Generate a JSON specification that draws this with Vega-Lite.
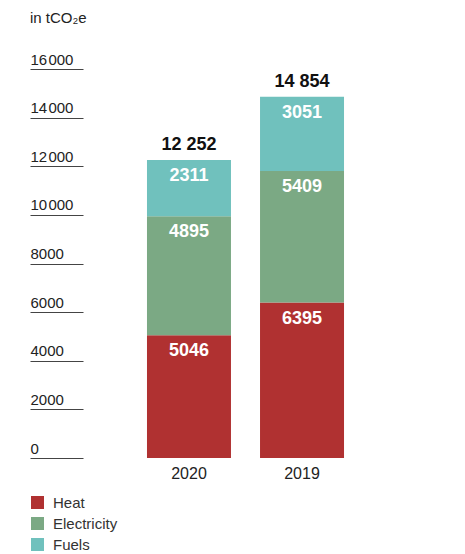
{
  "$schema": "https://vega.github.io/schema/vega-lite/v6.json",
  "width": 325,
  "height": 389,
  "autosize": {"type": "none"},
  "padding": {"left": 83, "top": 69, "right": 57, "bottom": 96},
  "background": "white",
  "title": {
    "text": "in tCO₂e",
    "anchor": "start",
    "frame": "group",
    "dx": -53,
    "offset": 26,
    "fontSize": 15,
    "fontWeight": "normal",
    "font": "Liberation Sans",
    "color": "#222"
  },
  "datasets": {
    "parts": [
      {"year": "2020", "type": "Heat", "value": 5046},
      {"year": "2020", "type": "Electricity", "value": 4895},
      {"year": "2020", "type": "Fuels", "value": 2311},
      {"year": "2019", "type": "Heat", "value": 6395},
      {"year": "2019", "type": "Electricity", "value": 5409},
      {"year": "2019", "type": "Fuels", "value": 3051}
    ],
    "totals": [
      {"year": "2020", "total": 12252},
      {"year": "2019", "total": 14854}
    ]
  },
  "encoding": {
    "x": {
      "field": "year",
      "type": "nominal",
      "sort": ["2020", "2019"],
      "scale": {"paddingInner": 0.257, "paddingOuter": 0.566},
      "axis": {
        "title": null,
        "domain": false,
        "ticks": false,
        "labelAngle": 0,
        "labelPadding": 7,
        "labelFontSize": 16,
        "labelFont": "Liberation Sans",
        "labelColor": "#222"
      }
    }
  },
  "layer": [
    {
      "data": {"name": "parts"},
      "transform": [
        {"calculate": "indexof(['Heat','Electricity','Fuels'], datum.type)", "as": "ord"},
        {"stack": "value", "groupby": ["year"], "sort": [{"field": "ord", "order": "ascending"}], "as": ["v0", "v1"]}
      ],
      "mark": {"type": "bar"},
      "encoding": {
        "y": {
          "field": "v1",
          "type": "quantitative",
          "scale": {"domain": [0, 16000], "nice": false},
          "axis": {
            "title": null,
            "domain": false,
            "grid": false,
            "values": [0, 2000, 4000, 6000, 8000, 10000, 12000, 14000, 16000],
            "tickSize": 53,
            "tickColor": "#444",
            "tickWidth": 1.2,
            "labelAlign": "left",
            "labelBaseline": "alphabetic",
            "labelPadding": 0,
            "labelOffset": -5,
            "labelFontSize": 15,
            "labelFont": "Liberation Sans",
            "labelColor": "#222",
            "labelFlush": false,
            "labelOverlap": false,
            "labelExpr": "datum.value >= 10000 ? floor(datum.value / 1000) + '\u200a000' : format(datum.value, 'd')"
          }
        },
        "y2": {"field": "v0"},
        "color": {
          "field": "type",
          "type": "nominal",
          "scale": {"domain": ["Heat", "Electricity", "Fuels"], "range": ["#b03131", "#7ba984", "#70c1bd"]},
          "legend": {
            "title": null,
            "orient": "none",
            "legendX": -53,
            "legendY": 426,
            "symbolType": "square",
            "symbolSize": 169,
            "symbolStrokeWidth": 0,
            "labelFontSize": 15,
            "labelFont": "Liberation Sans",
            "labelColor": "#333",
            "labelOffset": 8,
            "rowPadding": 5
          }
        }
      }
    },
    {
      "data": {"name": "parts"},
      "transform": [
        {"calculate": "indexof(['Heat','Electricity','Fuels'], datum.type)", "as": "ord"},
        {"stack": "value", "groupby": ["year"], "sort": [{"field": "ord", "order": "ascending"}], "as": ["v0", "v1"]}
      ],
      "mark": {"type": "text", "color": "white", "fontWeight": "bold", "fontSize": 18, "font": "Liberation Sans", "baseline": "middle", "dy": 16},
      "encoding": {
        "y": {"field": "v1", "type": "quantitative"},
        "text": {"field": "value", "type": "quantitative", "format": "d"}
      }
    },
    {
      "data": {"name": "totals"},
      "mark": {"type": "text", "color": "#111", "fontWeight": "bold", "fontSize": 18, "font": "Liberation Sans", "baseline": "middle", "dy": -15},
      "encoding": {
        "y": {"field": "total", "type": "quantitative"},
        "text": {"field": "total", "type": "quantitative", "format": ",d"}
      }
    }
  ],
  "config": {
    "view": {"stroke": null},
    "locale": {"number": {"decimal": ".", "thousands": " ", "grouping": [3], "currency": ["", ""]}}
  }
}
